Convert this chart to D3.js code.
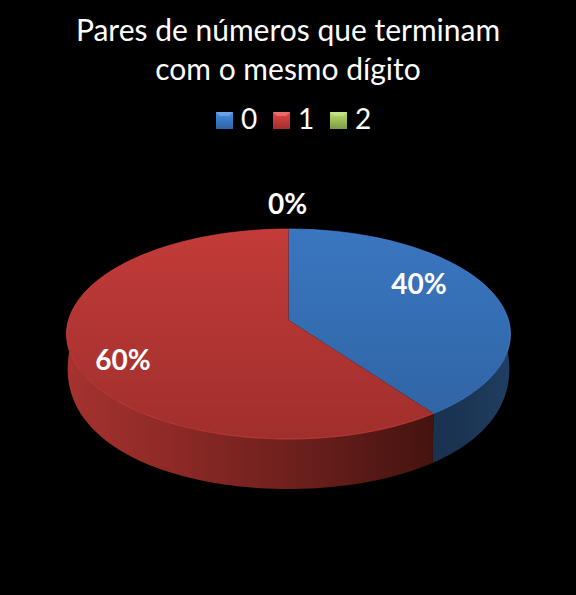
<!DOCTYPE html>
<html>
<head>
<meta charset="utf-8">
<script src="https://cdn.jsdelivr.net/npm/d3@7"></script>
<style>
html, body { margin: 0; padding: 0; background: #000; }
text { font-family: Lato, "Open Sans", sans-serif; fill: #fff; }
</style>
</head>
<body>
<svg id="chart" width="576" height="595"></svg>
<script>
var titleLines = ["Pares de números que terminam", "com o mesmo dígito"];
var categories = ["0", "1", "2"];
var values = [40, 60, 0];
var percentLabels = ["40%", "60%", "0%"];

var baseColors = ["#3a76c0", "#c23b39", "#9bbb59"];
var lowColors = ["#2f63a2", "#a02f2c", "#7f9a45"];

var svg = d3.select("#chart");
var defs = svg.append("defs");

svg.append("rect").attr("width", 576).attr("height", 595).attr("fill", "#000");

// perspective of the disc: u, v are in -1..1, v grows towards the viewer
var cx = 288.5, cy = 320, persp = -0.1333, radiusX = 220, slopeY = 60.5;

function project(angle, r) {
    var u = r * Math.sin(angle), v = -r * Math.cos(angle);
    var w = 1 + persp * v;
    return [cx + radiusX * u / w, (cy + slopeY * v) / w];
}
function projectLow(angle) {
    var p = project(angle, 1), v = -Math.cos(angle);
    return [cx + (p[0] - cx) * 0.995, p[1] + 50 - 20 * (1 - v) * (1 - v)];
}

var pie = d3.pie().sort(null).value(function(d){ return d });
var arcs = pie(values);
var line = d3.line();

function steps(a0, a1) {
    return d3.range(0, 81).map(function(i){ return a0 + (a1 - a0) * i / 80 });
}

// gradients
categories.forEach(function(c, i){
    var g = defs.append("linearGradient").attr("id", "top" + i)
        .attr("gradientUnits", "userSpaceOnUse")
        .attr("x1", 0).attr("y1", 229).attr("x2", 0).attr("y2", 439);
    g.append("stop").attr("offset", 0).attr("stop-color", baseColors[i]);
    g.append("stop").attr("offset", 1).attr("stop-color", lowColors[i]);

    var s = defs.append("linearGradient").attr("id", "swatch" + i)
        .attr("x1", 0).attr("y1", 0).attr("x2", 0).attr("y2", 1);
    s.append("stop").attr("offset", 0).attr("stop-color", d3.color(baseColors[i]).brighter(0.5));
    s.append("stop").attr("offset", 1).attr("stop-color", lowColors[i]);
});

var wallStops = [
    [[0, "#1a3150"], [0.45, "#1c3554"], [1, "#1f3f63"]],
    [[0, "#a6322f"], [0.3, "#8c2926"], [0.65, "#6a1f1c"], [1, "#45130f"]],
    [[0, "#5f7336"], [1, "#5f7336"]]
];
var wallRange = [[433, 511], [67, 433], [288, 289]];
wallStops.forEach(function(stops, i){
    var g = defs.append("linearGradient").attr("id", "wall" + i)
        .attr("gradientUnits", "userSpaceOnUse")
        .attr("x1", wallRange[i][0]).attr("y1", 0).attr("x2", wallRange[i][1]).attr("y2", 0);
    stops.forEach(function(s){
        g.append("stop").attr("offset", s[0]).attr("stop-color", s[1]);
    });
});

// side walls, only the part of each slice facing the viewer
var pie3d = svg.append("g");
arcs.forEach(function(d){
    var a0 = Math.max(d.startAngle, Math.PI / 2), a1 = Math.min(d.endAngle, Math.PI * 1.5);
    if (a1 <= a0) return;
    var upper = steps(a0, a1).map(function(a){ return project(a, 1) });
    var lower = steps(a1, a0).map(projectLow);
    pie3d.append("path")
        .attr("d", line(upper.concat(lower)) + "Z")
        .attr("fill", "url(#wall" + d.index + ")");
});

// top faces
arcs.forEach(function(d){
    if (d.endAngle <= d.startAngle) return;
    var rim = steps(d.startAngle, d.endAngle).map(function(a){ return project(a, 1) });
    pie3d.append("path")
        .attr("d", line([project(0, 0)].concat(rim)) + "Z")
        .attr("fill", "url(#top" + d.index + ")");
    pie3d.append("path")
        .attr("d", line(rim))
        .attr("fill", "none")
        .attr("stroke", d3.color(baseColors[d.index]).brighter(0.6))
        .attr("stroke-opacity", 0.55)
        .attr("stroke-width", 1);
});

// title
svg.append("g").selectAll("text")
    .data(titleLines)
    .enter()
    .append("text")
    .attr("x", 288)
    .attr("y", function(d, i){ return 41 + i * 39 })
    .attr("text-anchor", "middle")
    .attr("font-size", 30)
    .text(function(d){ return d });

// legend
var legendX = d3.scalePoint().domain(categories).range([216, 330]);
var legend = svg.append("g").selectAll("g")
    .data(categories)
    .enter()
    .append("g")
    .attr("transform", function(d){ return "translate(" + legendX(d) + ",112)" });
legend.append("rect")
    .attr("width", 17).attr("height", 17)
    .attr("fill", function(d, i){ return "url(#swatch" + i + ")" });
legend.append("path")
    .attr("d", "M0,0H17L13,4H4Z")
    .attr("fill", "#fff").attr("fill-opacity", 0.22);
legend.append("text")
    .attr("x", 25).attr("y", 16.5)
    .attr("font-size", 28)
    .text(function(d){ return d });

// data labels
var labelR = [0.6, 0.78, 1.12];
var labelShift = [[8, -7], [3, 24], [-1, -5]];
svg.append("g").selectAll("text")
    .data(arcs)
    .enter()
    .append("text")
    .attr("transform", function(d){
        var p = project((d.startAngle + d.endAngle) / 2, labelR[d.index]);
        return "translate(" + (p[0] + labelShift[d.index][0]) + "," + (p[1] + labelShift[d.index][1]) + ")";
    })
    .attr("text-anchor", "middle")
    .attr("font-size", 28)
    .attr("font-weight", 700)
    .text(function(d){ return percentLabels[d.index] });
</script>
</body>
</html>
